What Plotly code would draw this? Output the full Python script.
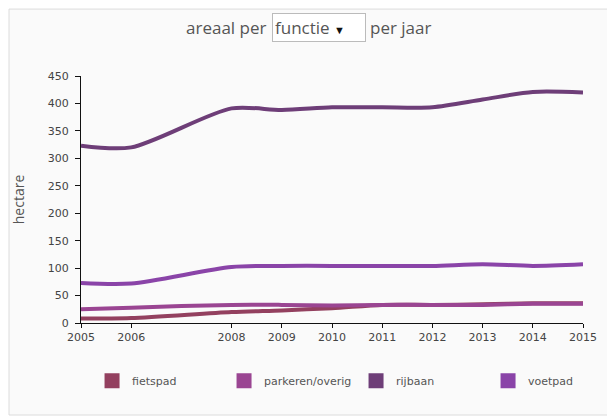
import plotly.graph_objects as go

years = [2005, 2006, 2008, 2009, 2010, 2011, 2012, 2013, 2014, 2015]
series_names = ["fietspad", "parkeren/overig", "rijbaan", "voetpad"]
fietspad = [8, 9, 20, 23, 27, 33, 33, 34, 36, 36]
parkeren = [25, 28, 33, 33, 32, 33, 33, 33, 35, 35]
rijbaan = [323, 320, 391, 388, 393, 393, 393, 407, 421, 420]
voetpad = [73, 72, 102, 104, 104, 104, 104, 107, 104, 107]
y_ticks = [0, 50, 100, 150, 200, 250, 300, 350, 400, 450]

colors = ["#93405f", "#9a4592", "#6e3e78", "#8a44a8"]
values = [fietspad, parkeren, rijbaan, voetpad]
legend_widths = [87, 87, 87, 60]

fig = go.Figure()
for name, vals, col in zip(series_names, values, colors):
    fig.add_trace(go.Scatter(
        x=years, y=vals, mode="lines", name=name,
        line=dict(color=col, width=4, shape="spline", smoothing=0.8),
        showlegend=False, hoverinfo="x+y+name"))
for name, col, lw in zip(series_names, colors, legend_widths):
    fig.add_trace(go.Scatter(
        x=[None], y=[None], mode="markers", name=name,
        marker=dict(symbol="square", size=15, color=col),
        legendwidth=lw, showlegend=True))

title_font = "Open Sans, sans-serif"
tick_font = "DejaVu Sans, Verdana, sans-serif"
fig.update_layout(
    width=607, height=411,
    margin=dict(l=73, r=32, t=68, b=96),
    paper_bgcolor="#ffffff", plot_bgcolor="rgba(0,0,0,0)",
    font=dict(family=title_font, color="#444", size=11),
    xaxis=dict(range=[2005, 2015], tickvals=years, ticktext=[str(y) for y in years],
               showgrid=False, zeroline=False, showline=True, linecolor="#111",
               linewidth=1, ticks="outside", ticklen=4, tickcolor="#111",
               tickangle=0, automargin=False,
               tickfont=dict(size=11, color="#444", family=tick_font)),
    yaxis=dict(range=[0, 450], tickvals=y_ticks, showgrid=False, zeroline=False,
               showline=True, linecolor="#111", linewidth=1, ticks="outside",
               ticklen=5, tickcolor="#111", ticklabelstandoff=4, automargin=False,
               tickfont=dict(size=11, color="#444", family=tick_font),
               title=dict(text="hectare", font=dict(size=14, color="#555"), standoff=19)),
    legend=dict(orientation="h", x=0.022, xanchor="left",
                y=-0.175, yanchor="top",
                bgcolor="rgba(0,0,0,0)",
                font=dict(size=11, color="#555", family=tick_font)),
    annotations=[
        dict(text="areaal per", xref="paper", yref="paper", x=0.3725, y=1.198,
             xanchor="right", yanchor="middle", showarrow=False,
             font=dict(size=17, color="#555")),
        dict(text="functie <span style='font-size:11px;color:#111'>▼</span>",
             xref="paper", yref="paper", x=0.474, y=1.198,
             xanchor="center", yanchor="middle", showarrow=False,
             width=88, align="left", borderpad=2, bordercolor="#bbb", borderwidth=1,
             bgcolor="#ffffff", font=dict(size=17, color="#555")),
        dict(text="per jaar", xref="paper", yref="paper", x=0.572, y=1.198,
             xanchor="left", yanchor="middle", showarrow=False,
             font=dict(size=17, color="#555")),
    ],
    shapes=[dict(type="rect", xref="paper", yref="paper", x0=-0.1434, x1=1.0558,
                 y0=-0.3725, y1=1.271, line=dict(color="#dcdcdc", width=1),
                 fillcolor="#fafafa", layer="below")],
)

fig.write_html("out.html")
